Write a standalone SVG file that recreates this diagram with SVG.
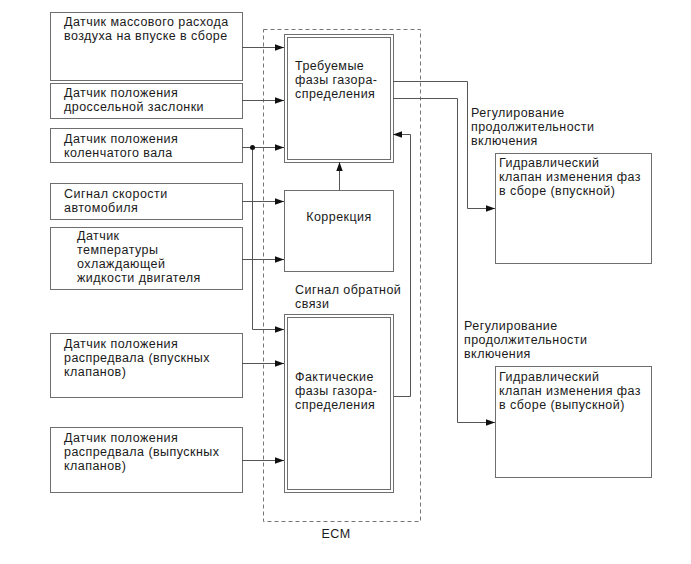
<svg xmlns="http://www.w3.org/2000/svg" width="691" height="564" viewBox="0 0 691 564">
<style>
text{font-family:"Liberation Sans",Arial,sans-serif;font-size:12.5px;letter-spacing:0.45px;fill:#1a1a1a}
.box{fill:#fff;stroke:#6e6e6e;stroke-width:1}
.dbl{fill:none;stroke:#6e6e6e;stroke-width:1}
.ecm{fill:none;stroke:#777;stroke-width:1;stroke-dasharray:4 3}
.c{fill:none;stroke:#555;stroke-width:1}
</style>
<defs>
<marker id="ah" markerUnits="userSpaceOnUse" markerWidth="10" markerHeight="8" refX="9" refY="4" orient="auto">
<path d="M0,0.8 L9,4 L0,7.2 Z" fill="#111"/>
</marker>
</defs>
<rect id="ecm" class="ecm" x="263.5" y="29.5" width="157" height="492"/>
<text x="336" y="538" text-anchor="middle">ECM</text>
<g id="n1"><rect class="box" x="50.5" y="12.5" width="192" height="68"/>
<text x="64" y="26">Датчик массового расхода</text><text x="64" y="40">воздуха на впуске в сборе</text></g>
<g id="n2"><rect class="box" x="50.5" y="83.5" width="192" height="35"/>
<text x="64" y="97">Датчик положения</text><text x="64" y="111">дроссельной заслонки</text></g>
<g id="n3"><rect class="box" x="50.5" y="128.5" width="192" height="34"/>
<text x="64" y="142.5">Датчик положения</text><text x="64" y="156.5">коленчатого вала</text></g>
<g id="n4"><rect class="box" x="50.5" y="183.5" width="192" height="36"/>
<text x="64" y="198">Сигнал скорости</text><text x="64" y="212">автомобиля</text></g>
<g id="n5"><rect class="box" x="50.5" y="227.5" width="192" height="62"/>
<text x="77" y="240">Датчик</text><text x="77" y="254">температуры</text><text x="77" y="268">охлаждающей</text><text x="77" y="282">жидкости двигателя</text></g>
<g id="n6"><rect class="box" x="50.5" y="333.5" width="192" height="64"/>
<text x="64" y="348">Датчик положения</text><text x="64" y="362">распредвала (впускных</text><text x="64" y="376">клапанов)</text></g>
<g id="n7"><rect class="box" x="50.5" y="427.5" width="192" height="65"/>
<text x="64" y="442">Датчик положения</text><text x="64" y="456">распредвала (выпускных</text><text x="64" y="470">клапанов)</text></g>
<g id="target"><rect class="box" x="284.5" y="34.5" width="109" height="128"/><rect class="dbl" x="287.5" y="37.5" width="103" height="122"/>
<text x="295" y="70">Требуемые</text><text x="295" y="84">фазы газора-</text><text x="295" y="98">спределения</text></g>
<g id="corr"><rect class="box" x="284.5" y="190.5" width="109" height="81"/>
<text x="339" y="221" text-anchor="middle">Коррекция</text></g>
<g id="actual"><rect class="box" x="284.5" y="314.5" width="109" height="178"/><rect class="dbl" x="287.5" y="317.5" width="103" height="172"/>
<text x="295" y="381">Фактические</text><text x="295" y="395">фазы газора-</text><text x="295" y="409">спределения</text></g>
<g id="fb-label"><text x="295" y="294">Сигнал обратной</text><text x="295" y="308">связи</text></g>
<g id="v1"><rect class="box" x="495.5" y="153.5" width="156" height="110"/>
<text x="499" y="167">Гидравлический</text><text x="499" y="181">клапан изменения фаз</text><text x="499" y="195">в сборе (впускной)</text></g>
<g id="v2"><rect class="box" x="495.5" y="366.5" width="156" height="111"/>
<text x="499" y="381">Гидравлический</text><text x="499" y="395">клапан изменения фаз</text><text x="499" y="409">в сборе (выпускной)</text></g>
<g id="l1"><text x="471" y="117">Регулирование</text><text x="471" y="131">продолжительности</text><text x="471" y="145">включения</text></g>
<g id="l2"><text x="464" y="330">Регулирование</text><text x="464" y="344">продолжительности</text><text x="464" y="358">включения</text></g>
<g id="connectors">
<path class="c" d="M242,47.5 H284" marker-end="url(#ah)"/>
<path class="c" d="M242,100.5 H284" marker-end="url(#ah)"/>
<path class="c" d="M242,147.5 H284" marker-end="url(#ah)"/>
<path class="c" d="M252.5,147 V329.5 H284" marker-end="url(#ah)"/>
<circle cx="252.5" cy="147.5" r="2.5" fill="#111"/>
<path class="c" d="M242,201.5 H284" marker-end="url(#ah)"/>
<path class="c" d="M242,259.5 H284" marker-end="url(#ah)"/>
<path class="c" d="M242,363.5 H284" marker-end="url(#ah)"/>
<path class="c" d="M242,460.5 H284" marker-end="url(#ah)"/>
<path class="c" d="M339.5,190 V162" marker-end="url(#ah)"/>
<path class="c" d="M394,396.5 H410.5 V134.5 H393" marker-end="url(#ah)"/>
<path class="c" d="M393,81.5 H467.5 V208.5 H495" marker-end="url(#ah)"/>
<path class="c" d="M393,98.5 H457.5 V422.5 H495" marker-end="url(#ah)"/>
</g>
</svg>
